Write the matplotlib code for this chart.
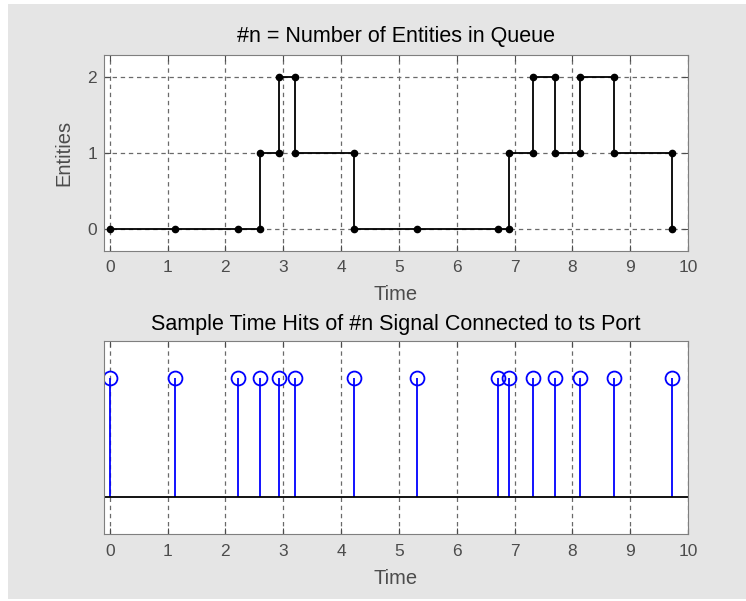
import matplotlib
matplotlib.use("Agg")
import matplotlib.pyplot as plt
from matplotlib.patches import Rectangle

plt.rcParams['font.family'] = ['Liberation Sans', 'DejaVu Sans']

# 队列中实体数 (重复时间点表示同一时刻的跳变)
t_queue = [0, 1.12, 2.22, 2.60, 2.60, 2.92, 2.92, 3.20, 3.20, 4.22, 4.22, 5.31,
           6.71, 6.90, 6.90, 7.32, 7.32, 7.70, 7.70, 8.13, 8.13, 8.72, 8.72, 9.72, 9.72]
n_queue = [0, 0, 0, 0, 1, 1, 2, 2, 1, 1, 0, 0,
           0, 0, 1, 1, 2, 2, 1, 1, 2, 2, 1, 1, 0]

# 采样时间点
t_hits = [0, 1.12, 2.22, 2.60, 2.92, 3.20, 4.22, 5.31, 6.71, 6.90, 7.32, 7.70, 8.13, 8.72, 9.72]
hit_vals = [1] * len(t_hits)

x_ticks = list(range(0, 11))
y_ticks = [0, 1, 2]

tick_color = '#4c4c4c'
spine_color = '#7f7f7f'
grid_color = '#6a6a6a'

fig = plt.figure(figsize=(7.46, 6.01), dpi=100)
fig.patch.set_facecolor('white')
fig.patches.append(Rectangle((8 / 746, 2 / 601), 738 / 746, 595 / 601,
                             transform=fig.transFigure, facecolor='#e5e5e5',
                             edgecolor='none', zorder=-10))


def style_axes(ax):
    ax.set_facecolor('white')
    for s in ax.spines.values():
        s.set_color(spine_color)
    ax.tick_params(direction='in', colors=tick_color, labelsize=12.5, length=4,
                   top=True, right=True)
    ax.tick_params(axis='x', pad=7)
    ax.tick_params(axis='y', pad=5)
    ax.grid(True, linestyle=(0, (3.5, 3)), color=grid_color, linewidth=0.9)
    ax.set_axisbelow(True)
    ax.set_xlim(-0.1, 10)
    ax.set_xticks(x_ticks)


# 上图: 阶梯图
ax1 = fig.add_axes([0.1394, 0.5829, 0.7828, 0.3256])
style_axes(ax1)
ax1.step(t_queue, n_queue, where='post', color='black', linewidth=1.3,
         marker='.', markersize=9)
ax1.set_ylim(-0.29, 2.29)
ax1.set_yticks(y_ticks)
ax1.set_title('#n = Number of Entities in Queue', fontsize=15.5, pad=9)
ax1.set_xlabel('Time', fontsize=14.5, color=tick_color, labelpad=7)
ax1.set_ylabel('Entities', fontsize=14.5, color=tick_color, labelpad=10)

# 下图: 杆状图
ax2 = fig.add_axes([0.1394, 0.111, 0.7828, 0.322])
style_axes(ax2)
ml, sl, bl = ax2.stem(t_hits, hit_vals, basefmt='k-')
plt.setp(sl, color='blue', linewidth=1.3)
plt.setp(ml, color='blue', markerfacecolor='none', markersize=10, markeredgewidth=1.3)
plt.setp(bl, linewidth=1.3)
bl.set_xdata([-0.1, 10])
ax2.set_ylim(-0.31, 1.31)
ax2.set_yticks([])
ax2.set_title('Sample Time Hits of #n Signal Connected to ts Port', fontsize=15.5, pad=8)
ax2.set_xlabel('Time', fontsize=14.5, color=tick_color, labelpad=7)

fig.savefig('out.png', dpi=100)
